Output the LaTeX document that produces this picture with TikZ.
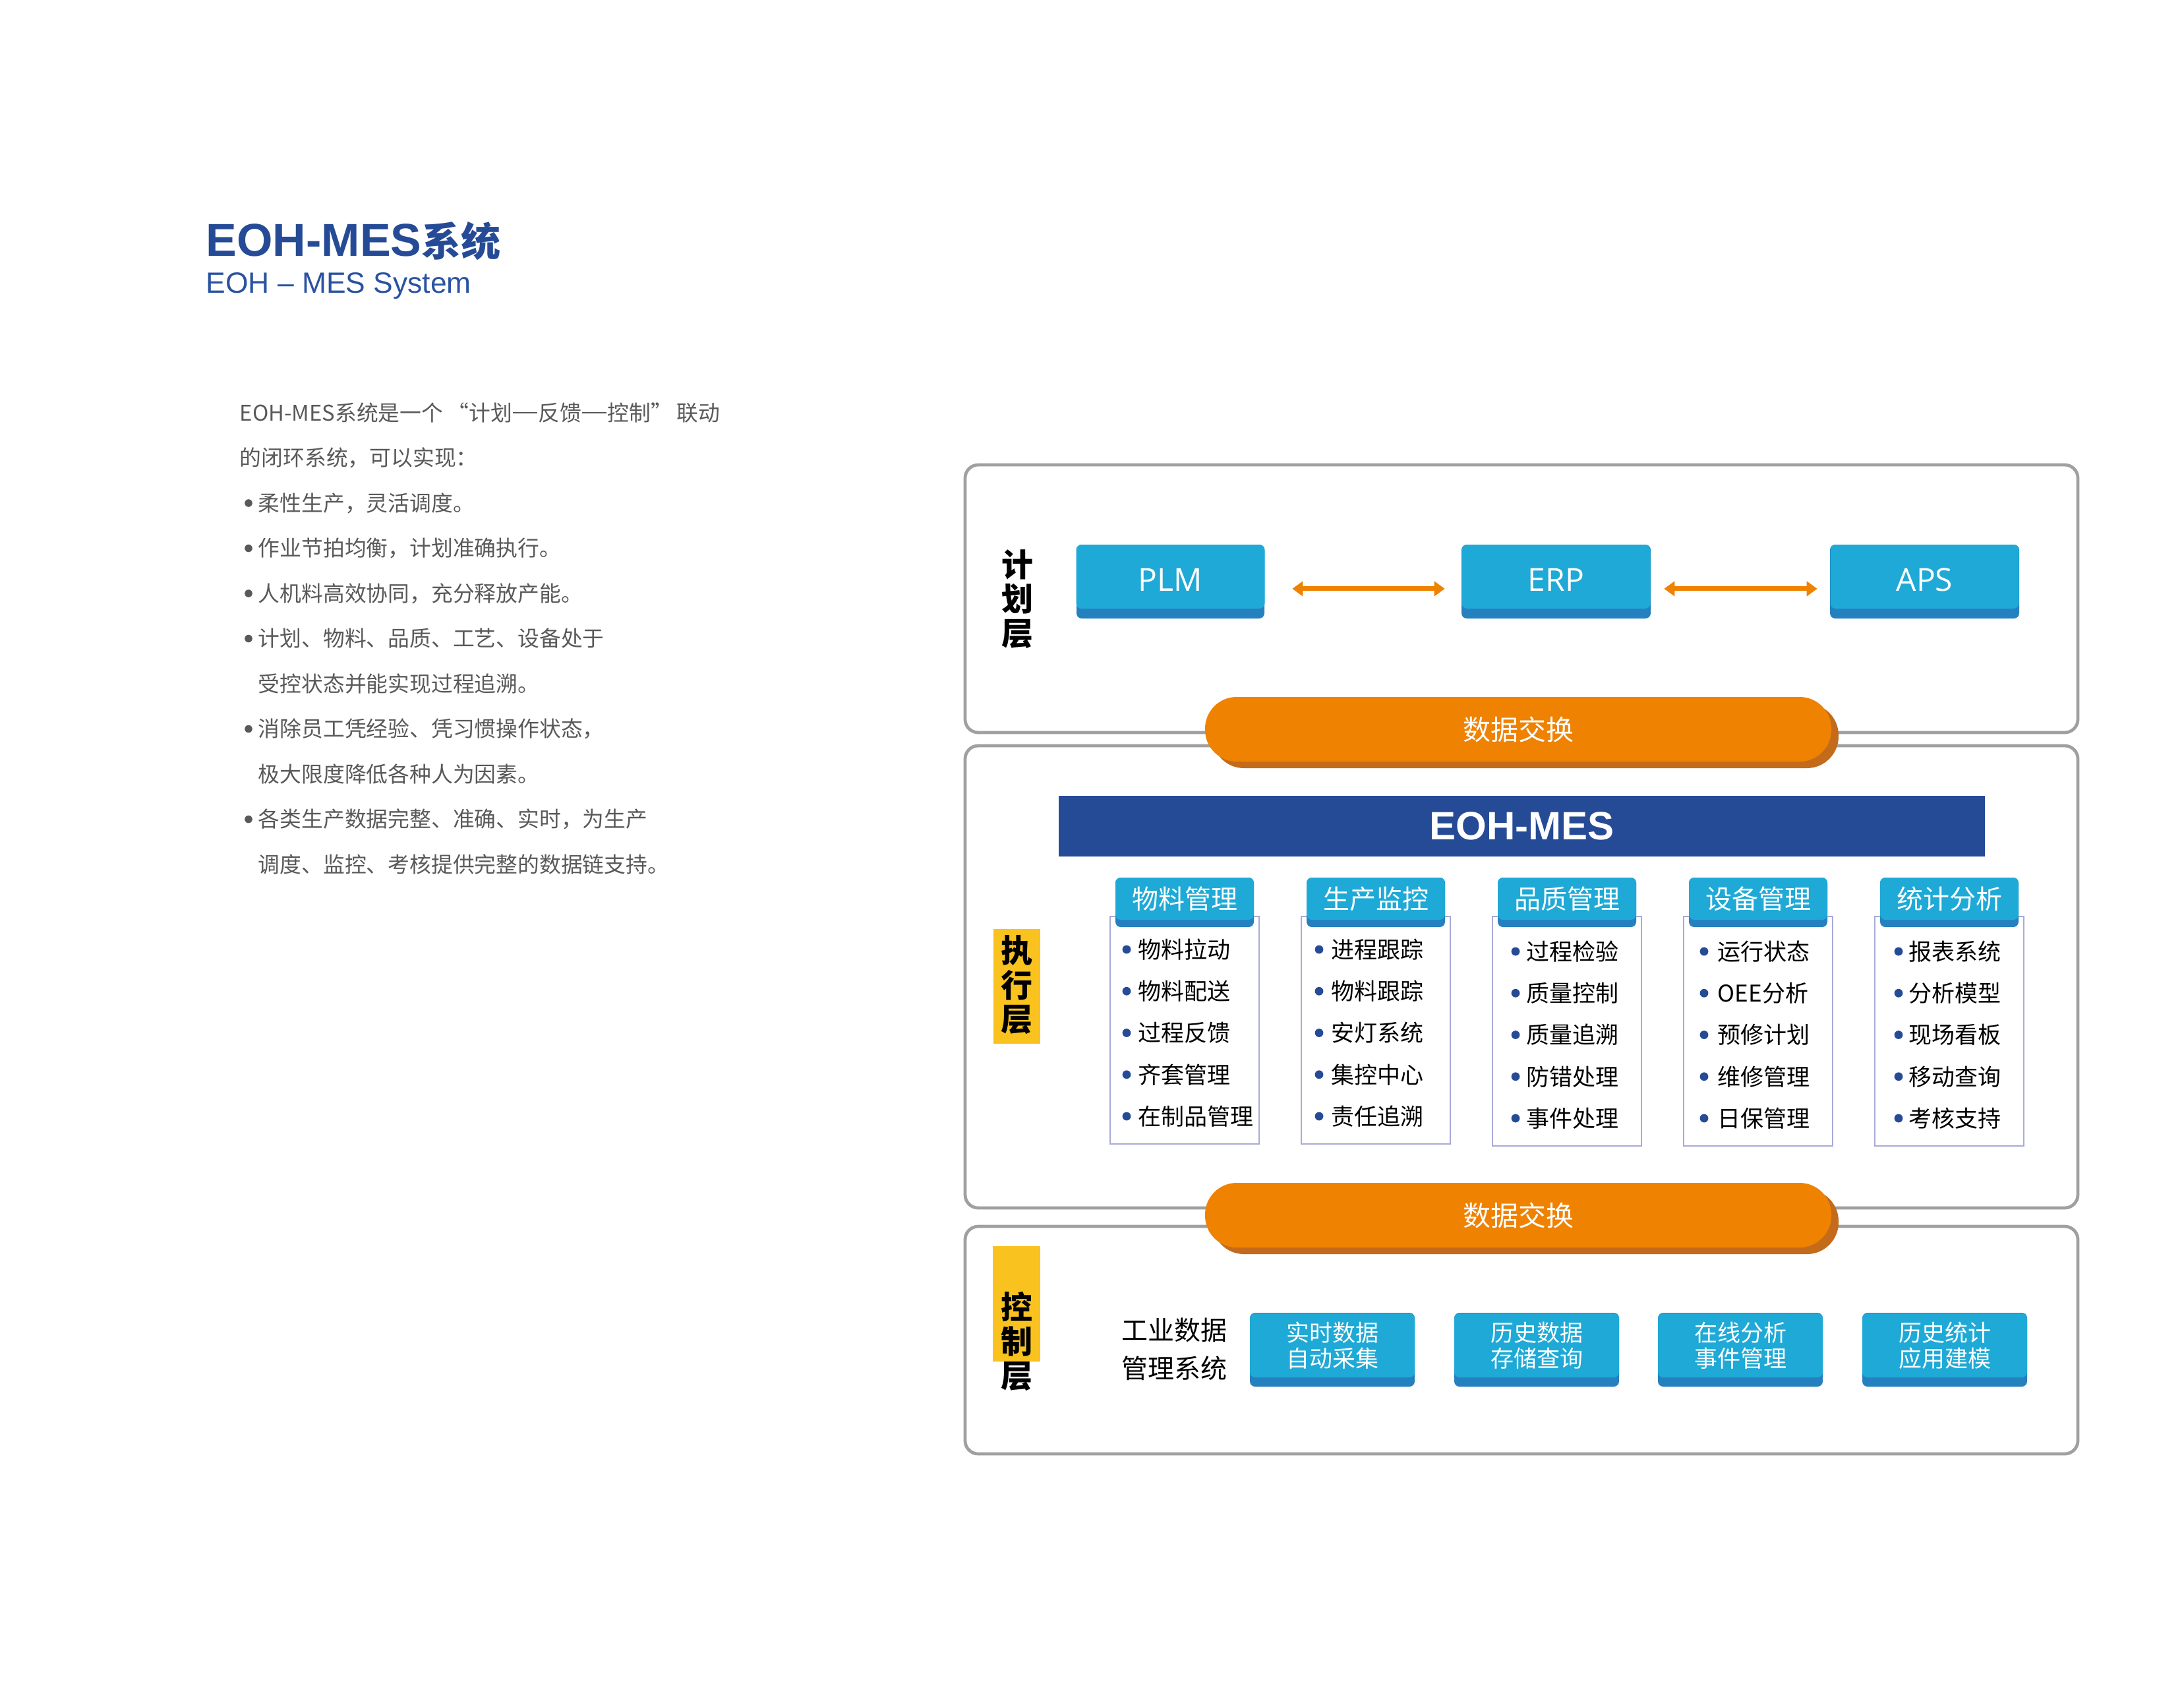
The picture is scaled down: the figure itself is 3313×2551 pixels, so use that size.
\documentclass[tikz,border=0pt]{standalone}
\usepackage{fontspec}
\setmainfont{Noto Sans CJK SC}
\newfontfamily\lsans{Liberation Sans}
\newfontfamily\osans{Open Sans}
\usetikzlibrary{arrows.meta}
\definecolor{mesblue}{HTML}{264B96}
\definecolor{subblue}{HTML}{2A52A0}
\definecolor{blight}{HTML}{1FA9D6}
\definecolor{bdark}{HTML}{2580BF}
\definecolor{orng}{HTML}{EF8200}
\definecolor{orngdk}{HTML}{C36B1B}
\definecolor{framegray}{HTML}{A0A0A0}
\definecolor{ylw}{HTML}{F9C21F}
\definecolor{txtgray}{HTML}{595959}
\definecolor{listline}{HTML}{A8AAD8}
\newcommand\fsz[2]{\fontsize{#1}{#2}\selectfont}
\newcommand\myopenq{\makebox[1.2em][r]{“}}
\newcommand\myclosq{\makebox[1.2em][l]{”}}
\newcommand\mydsh{\makebox[1.2em]{\rule[0.36em]{1.12em}{0.06em}}}
\begin{document}
\begin{tikzpicture}[x=0.25pt,y=-0.25pt,
  layerbox/.style={draw=framegray, line width=1.2pt, rounded corners=5pt, fill=white},
  pillshadow/.style={fill=orngdk, rounded corners=12pt},
  pill/.style={fill=orng, rounded corners=12pt, minimum width=237.5pt, minimum height=24.5pt, inner sep=0pt, text=white, font={\fsz{10.5pt}{12pt}}},
  sysbox/.style={fill=blight, rounded corners=2pt, minimum width=71.5pt, minimum height=24.25pt, inner sep=0pt, text=white, font={\osans\fsz{12pt}{14pt}}, text height=10.8pt, text depth=0pt},
  bstrip/.style={fill=bdark, rounded corners=2pt},
  biarrow/.style={draw=orng, line width=1.75pt, {Triangle[length=4pt,width=5.5pt]}-{Triangle[length=4pt,width=5.5pt]}},
  headbox/.style={fill=blight, rounded corners=2pt, minimum width=52.5pt, minimum height=16pt, inner sep=0pt, text=white, font={\fsz{10pt}{12pt}}},
  listbox/.style={draw=listline, line width=0.5pt},
  mitem/.style={anchor=west, inner sep=0pt, font={\fsz{8.75pt}{10pt}}},
  bulletdot/.style={fill=mesblue},
  vlabel/.style={font={\bfseries\fsz{12pt}{13pt}}, align=center, inner sep=0pt},
  ctlbox/.style={fill=blight, rounded corners=2pt, minimum width=62.5pt, minimum height=24.25pt, inner sep=0pt, text=white, align=center, font={\fsz{8.75pt}{9.75pt}}},
  para/.style={anchor=west, inner sep=0pt, text=txtgray, font={\fsz{8.2pt}{9.8pt}}},
  pbullet/.style={fill=txtgray}
]
\useasboundingbox (0,0) rectangle (3313,2551);

% ---------- title ----------
\node[anchor=base west, inner sep=0pt, text=mesblue] (title) at (312,388)
  {{\lsans\bfseries\fsz{17.5pt}{20pt}EOH-MES}{\bfseries\fsz{15pt}{20pt}系统}};
\node[anchor=base west, inner sep=0pt, text=subblue, font={\lsans\fsz{11.1pt}{13pt}}] (subtitle) at (312,444) {EOH – MES System};

% ---------- paragraph ----------
\node[para] (p0) at (363,626) {EOH-MES系统是一个\myopenq 计划\mydsh 反馈\mydsh 控制\myclosq 联动};
\node[para] (p1) at (363,694.5) {的闭环系统，可以实现：};
\fill[pbullet] (377,763) circle (1.45pt);
\node[para] (p2) at (391,763) {柔性生产，灵活调度。};
\fill[pbullet] (377,831.5) circle (1.45pt);
\node[para] (p3) at (391,831.5) {作业节拍均衡，计划准确执行。};
\fill[pbullet] (377,900) circle (1.45pt);
\node[para] (p4) at (391,900) {人机料高效协同，充分释放产能。};
\fill[pbullet] (377,968.5) circle (1.45pt);
\node[para] (p5) at (391,968.5) {计划、物料、品质、工艺、设备处于};
\node[para] (p6) at (391,1037) {受控状态并能实现过程追溯。};
\fill[pbullet] (377,1105.5) circle (1.45pt);
\node[para] (p7) at (391,1105.5) {消除员工凭经验、凭习惯操作状态，};
\node[para] (p8) at (391,1174) {极大限度降低各种人为因素。};
\fill[pbullet] (377,1242.5) circle (1.45pt);
\node[para] (p9) at (391,1242.5) {各类生产数据完整、准确、实时，为生产};
\node[para] (p10) at (391,1311) {调度、监控、考核提供完整的数据链支持。};

% ---------- layer frames ----------
\draw[layerbox] (1464,705) rectangle (3152,1111);
\draw[layerbox] (1464,1131) rectangle (3152,1832);
\draw[layerbox] (1464,1860) rectangle (3152,2205);

% ---------- layer labels ----------
\node[vlabel] (lplan) at (1543,909) {计\\划\\层};
\fill[ylw] (1507,1409) rectangle (1578,1583);
\node[vlabel] (lexec) at (1542,1494) {执\\行\\层};
\fill[ylw] (1506,1890) rectangle (1578,2065);
\node[vlabel] (lctrl) at (1542,2034) {控\\制\\层};

% ---------- planning layer ----------
\fill[bstrip] (1633,826) rectangle (1918,938);
\fill[bstrip] (2217,826) rectangle (2504,938);
\fill[bstrip] (2776,826) rectangle (3063,938);
\node[sysbox] (plm) at (1775.5,874.5) {PLM};
\node[sysbox] (erp) at (2360.5,874.5) {ERP};
\node[sysbox] (aps) at (2919.5,874.5) {APS};
\draw[biarrow, shorten <=10.25pt, shorten >=6.25pt] ([yshift=-4.6pt]plm.east) -- ([yshift=-4.6pt]erp.west);
\draw[biarrow, shorten <=5pt, shorten >=4.75pt] ([yshift=-4.6pt]erp.east) -- ([yshift=-4.6pt]aps.west);

% ---------- data exchange pills ----------
\fill[pillshadow] (1839,1067) rectangle (2789,1165);
\node[pill] (dx1) at (2303,1106) {数据交换};
\fill[pillshadow] (1839,1804) rectangle (2789,1902);
\node[pill] (dx2) at (2303,1843) {数据交换};

% ---------- execution layer ----------
\node[fill=mesblue, minimum width=351.25pt, minimum height=23pt, inner sep=0pt, text=white,
      font={\lsans\bfseries\fsz{15pt}{17pt}}] (mes) at (2308.5,1253) {EOH-MES};

\foreach \i/\bx/\tx/\dy/\h/\a/\b/\c/\d/\e in {
  0/-88/-71/0/物料管理/物料拉动/物料配送/过程反馈/齐套管理/在制品管理,
  1/-86/-68/0/生产监控/进程跟踪/物料跟踪/安灯系统/集控中心/责任追溯,
  2/-78/-62/3/品质管理/过程检验/质量控制/质量追溯/防错处理/事件处理,
  3/-82/-62/3/设备管理/运行状态/OEE分析/预修计划/维修管理/日保管理,
  4/-77/-62/3/统计分析/报表系统/分析模型/现场看板/移动查询/考核支持}{
  \pgfmathsetmacro\cx{1797+290*\i}
  \draw[listbox] ({\cx-113},1390) rectangle ({\cx+113},{1735+\dy});
  \fill[bstrip] ({\cx-105},1331) rectangle ({\cx+105},1406);
  \node[headbox] (h\i) at (\cx,1363) {\h};
  \foreach \j/\t in {0/\a,1/\b,2/\c,3/\d,4/\e}{
    \pgfmathsetmacro\iy{1440+63.25*\j+\dy}
    \fill[bulletdot] ({\cx+\bx},\iy) circle (1.6pt);
    \node[mitem] (it\i\j) at ({\cx+\tx},\iy) {\t};
  }
}

% ---------- control layer ----------
\node[font={\fsz{10pt}{14.5pt}}, align=center, inner sep=0pt] (ind) at (1781,2046) {工业数据\\管理系统};
\foreach \k/\cx/\la/\lb in {0/2021/实时数据/自动采集, 1/2331/历史数据/存储查询, 2/2640/在线分析/事件管理, 3/2950/历史统计/应用建模}{
  \fill[bstrip] ({\cx-125},1991) rectangle ({\cx+125},2103);
  \node[ctlbox] (c\k) at (\cx,2040.5) {\la\\\lb};
}
\end{tikzpicture}
\end{document}
